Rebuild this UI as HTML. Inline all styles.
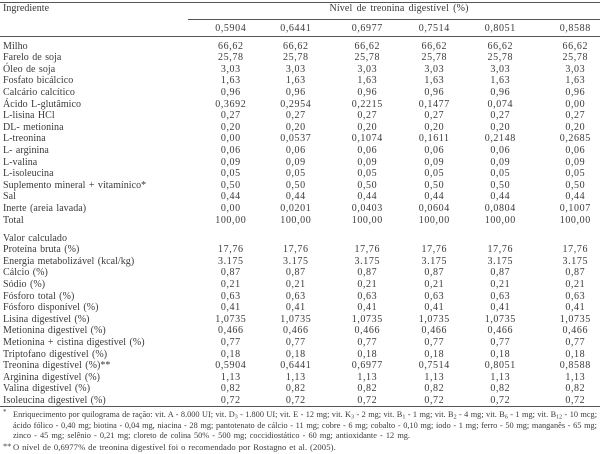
<!DOCTYPE html>
<html><head><meta charset="utf-8">
<style>
html,body{margin:0;padding:0;background:#fff;}
body{width:600px;height:454px;position:relative;overflow:hidden;font-family:"Liberation Serif",serif;color:#3a3a3a;font-size:10px;}
.r{position:absolute;left:0;width:600px;height:12px;line-height:12px;white-space:nowrap;}
.l{position:absolute;left:3px;letter-spacing:0.05px;word-spacing:0.8px;}
.v{position:absolute;width:60px;text-align:center;letter-spacing:0.6px;}
.c1{left:200.8px}.c2{left:265.8px}.c3{left:337.3px}.c4{left:404.3px}.c5{left:470.3px}.c6{left:545.3px}
.hl{position:absolute;height:1px;background:#555;}
.fn{position:absolute;font-size:8.3px;line-height:10px;height:10px;white-space:nowrap;color:#3a3a3a;}
.j{text-align:justify;text-align-last:justify;white-space:normal;overflow:hidden;}
sub{font-size:6px;vertical-align:-1.5px;line-height:0;}
</style></head><body>

<div class="hl" style="left:0;width:600px;top:2px;"></div>
<div class="hl" style="left:188px;width:412px;top:19px;"></div>
<div class="hl" style="left:0;width:600px;top:36px;"></div>
<div class="hl" style="left:0;width:600px;top:406px;"></div>

<div class="r" style="top:3px"><span class="l">Ingrediente</span><span style="position:absolute;left:329px;width:140px;text-align:center;letter-spacing:0.15px;word-spacing:1.5px;">Nível de treonina digestível (%)</span></div>
<div class="r" style="top:22.5px"><span class="v c1">0,5904</span><span class="v c2">0,6441</span><span class="v c3">0,6977</span><span class="v c4">0,7514</span><span class="v c5">0,8051</span><span class="v c6">0,8588</span></div>

<div class="r" style="top:40.5px"><span class="l">Milho</span><span class="v c1">66,62</span><span class="v c2">66,62</span><span class="v c3">66,62</span><span class="v c4">66,62</span><span class="v c5">66,62</span><span class="v c6">66,62</span></div>
<div class="r" style="top:52.1px"><span class="l">Farelo de soja</span><span class="v c1">25,78</span><span class="v c2">25,78</span><span class="v c3">25,78</span><span class="v c4">25,78</span><span class="v c5">25,78</span><span class="v c6">25,78</span></div>
<div class="r" style="top:63.7px"><span class="l">Óleo de soja</span><span class="v c1">3,03</span><span class="v c2">3,03</span><span class="v c3">3,03</span><span class="v c4">3,03</span><span class="v c5">3,03</span><span class="v c6">3,03</span></div>
<div class="r" style="top:75.3px"><span class="l">Fosfato bicálcico</span><span class="v c1">1,63</span><span class="v c2">1,63</span><span class="v c3">1,63</span><span class="v c4">1,63</span><span class="v c5">1,63</span><span class="v c6">1,63</span></div>
<div class="r" style="top:86.9px"><span class="l">Calcário calcítico</span><span class="v c1">0,96</span><span class="v c2">0,96</span><span class="v c3">0,96</span><span class="v c4">0,96</span><span class="v c5">0,96</span><span class="v c6">0,96</span></div>
<div class="r" style="top:98.5px"><span class="l">Ácido L-glutâmico</span><span class="v c1">0,3692</span><span class="v c2">0,2954</span><span class="v c3">0,2215</span><span class="v c4">0,1477</span><span class="v c5">0,074</span><span class="v c6">0,00</span></div>
<div class="r" style="top:110.1px"><span class="l">L-lisina HCl</span><span class="v c1">0,27</span><span class="v c2">0,27</span><span class="v c3">0,27</span><span class="v c4">0,27</span><span class="v c5">0,27</span><span class="v c6">0,27</span></div>
<div class="r" style="top:121.7px"><span class="l">DL- metionina</span><span class="v c1">0,20</span><span class="v c2">0,20</span><span class="v c3">0,20</span><span class="v c4">0,20</span><span class="v c5">0,20</span><span class="v c6">0,20</span></div>
<div class="r" style="top:133.3px"><span class="l">L-treonina</span><span class="v c1">0,00</span><span class="v c2">0,0537</span><span class="v c3">0,1074</span><span class="v c4">0,1611</span><span class="v c5">0,2148</span><span class="v c6">0,2685</span></div>
<div class="r" style="top:144.9px"><span class="l">L- arginina</span><span class="v c1">0,06</span><span class="v c2">0,06</span><span class="v c3">0,06</span><span class="v c4">0,06</span><span class="v c5">0,06</span><span class="v c6">0,06</span></div>
<div class="r" style="top:156.5px"><span class="l">L-valina</span><span class="v c1">0,09</span><span class="v c2">0,09</span><span class="v c3">0,09</span><span class="v c4">0,09</span><span class="v c5">0,09</span><span class="v c6">0,09</span></div>
<div class="r" style="top:168.1px"><span class="l">L-isoleucina</span><span class="v c1">0,05</span><span class="v c2">0,05</span><span class="v c3">0,05</span><span class="v c4">0,05</span><span class="v c5">0,05</span><span class="v c6">0,05</span></div>
<div class="r" style="top:179.7px"><span class="l">Suplemento mineral + vitamínico*</span><span class="v c1">0,50</span><span class="v c2">0,50</span><span class="v c3">0,50</span><span class="v c4">0,50</span><span class="v c5">0,50</span><span class="v c6">0,50</span></div>
<div class="r" style="top:191.3px"><span class="l">Sal</span><span class="v c1">0,44</span><span class="v c2">0,44</span><span class="v c3">0,44</span><span class="v c4">0,44</span><span class="v c5">0,44</span><span class="v c6">0,44</span></div>
<div class="r" style="top:202.9px"><span class="l">Inerte (areia lavada)</span><span class="v c1">0,00</span><span class="v c2">0,0201</span><span class="v c3">0,0403</span><span class="v c4">0,0604</span><span class="v c5">0,0804</span><span class="v c6">0,1007</span></div>
<div class="r" style="top:214.5px"><span class="l">Total</span><span class="v c1">100,00</span><span class="v c2">100,00</span><span class="v c3">100,00</span><span class="v c4">100,00</span><span class="v c5">100,00</span><span class="v c6">100,00</span></div>

<div class="r" style="top:232.6px"><span class="l">Valor calculado</span></div>
<div class="r" style="top:244.2px"><span class="l">Proteína bruta (%)</span><span class="v c1">17,76</span><span class="v c2">17,76</span><span class="v c3">17,76</span><span class="v c4">17,76</span><span class="v c5">17,76</span><span class="v c6">17,76</span></div>
<div class="r" style="top:255.8px"><span class="l">Energia metabolizável (kcal/kg)</span><span class="v c1">3.175</span><span class="v c2">3.175</span><span class="v c3">3.175</span><span class="v c4">3.175</span><span class="v c5">3.175</span><span class="v c6">3.175</span></div>
<div class="r" style="top:267.4px"><span class="l">Cálcio (%)</span><span class="v c1">0,87</span><span class="v c2">0,87</span><span class="v c3">0,87</span><span class="v c4">0,87</span><span class="v c5">0,87</span><span class="v c6">0,87</span></div>
<div class="r" style="top:279px"><span class="l">Sódio (%)</span><span class="v c1">0,21</span><span class="v c2">0,21</span><span class="v c3">0,21</span><span class="v c4">0,21</span><span class="v c5">0,21</span><span class="v c6">0,21</span></div>
<div class="r" style="top:290.6px"><span class="l">Fósforo total (%)</span><span class="v c1">0,63</span><span class="v c2">0,63</span><span class="v c3">0,63</span><span class="v c4">0,63</span><span class="v c5">0,63</span><span class="v c6">0,63</span></div>
<div class="r" style="top:302.2px"><span class="l">Fósforo disponível (%)</span><span class="v c1">0,41</span><span class="v c2">0,41</span><span class="v c3">0,41</span><span class="v c4">0,41</span><span class="v c5">0,41</span><span class="v c6">0,41</span></div>
<div class="r" style="top:313.8px"><span class="l">Lisina digestível (%)</span><span class="v c1">1,0735</span><span class="v c2">1,0735</span><span class="v c3">1,0735</span><span class="v c4">1,0735</span><span class="v c5">1,0735</span><span class="v c6">1,0735</span></div>
<div class="r" style="top:325.4px"><span class="l">Metionina digestível (%)</span><span class="v c1">0,466</span><span class="v c2">0,466</span><span class="v c3">0,466</span><span class="v c4">0,466</span><span class="v c5">0,466</span><span class="v c6">0,466</span></div>
<div class="r" style="top:337px"><span class="l">Metionina + cistina digestível (%)</span><span class="v c1">0,77</span><span class="v c2">0,77</span><span class="v c3">0,77</span><span class="v c4">0,77</span><span class="v c5">0,77</span><span class="v c6">0,77</span></div>
<div class="r" style="top:348.6px"><span class="l">Triptofano digestível (%)</span><span class="v c1">0,18</span><span class="v c2">0,18</span><span class="v c3">0,18</span><span class="v c4">0,18</span><span class="v c5">0,18</span><span class="v c6">0,18</span></div>
<div class="r" style="top:360.2px"><span class="l">Treonina digestível (%)**</span><span class="v c1">0,5904</span><span class="v c2">0,6441</span><span class="v c3">0,6977</span><span class="v c4">0,7514</span><span class="v c5">0,8051</span><span class="v c6">0,8588</span></div>
<div class="r" style="top:371.8px"><span class="l">Arginina digestível (%)</span><span class="v c1">1,13</span><span class="v c2">1,13</span><span class="v c3">1,13</span><span class="v c4">1,13</span><span class="v c5">1,13</span><span class="v c6">1,13</span></div>
<div class="r" style="top:383.4px"><span class="l">Valina digestível (%)</span><span class="v c1">0,82</span><span class="v c2">0,82</span><span class="v c3">0,82</span><span class="v c4">0,82</span><span class="v c5">0,82</span><span class="v c6">0,82</span></div>
<div class="r" style="top:395px"><span class="l">Isoleucina digestível (%)</span><span class="v c1">0,72</span><span class="v c2">0,72</span><span class="v c3">0,72</span><span class="v c4">0,72</span><span class="v c5">0,72</span><span class="v c6">0,72</span></div>

<div class="fn" style="left:3px;top:407px;font-size:7px;">*</div>
<div class="fn j" style="left:13px;width:584px;top:410px;">Enriquecimento por quilograma de ração: vit. A - 8.000 UI; vit. D<sub>3</sub> - 1.800 UI; vit. E - 12 mg; vit. K<sub>3</sub> - 2 mg; vit. B<sub>1</sub> - 1 mg; vit. B<sub>2</sub> - 4 mg; vit. B<sub>6</sub> - 1 mg; vit. B<sub>12</sub> - 10 mcg;</div>
<div class="fn j" style="left:13px;width:584px;top:420.5px;">ácido fólico - 0,40 mg; biotina - 0,04 mg, niacina - 28 mg; pantotenato de cálcio - 11 mg; cobre - 6 mg; cobalto - 0,10 mg; iodo - 1 mg; ferro - 50 mg; manganês - 65 mg;</div>
<div class="fn j" style="left:13px;width:397px;top:431px;">zinco - 45 mg; selênio - 0,21 mg; cloreto de colina 50% - 500 mg; coccidiostático - 60 mg; antioxidante - 12 mg.</div>
<div class="fn" style="left:3px;top:441.5px;">**</div>
<div class="fn" style="left:13px;top:441.5px;font-size:8.6px;letter-spacing:0.1px;word-spacing:0.6px;">O nível de 0,6977% de treonina digestível foi o recomendado por Rostagno et al. (2005).</div>

</body></html>
